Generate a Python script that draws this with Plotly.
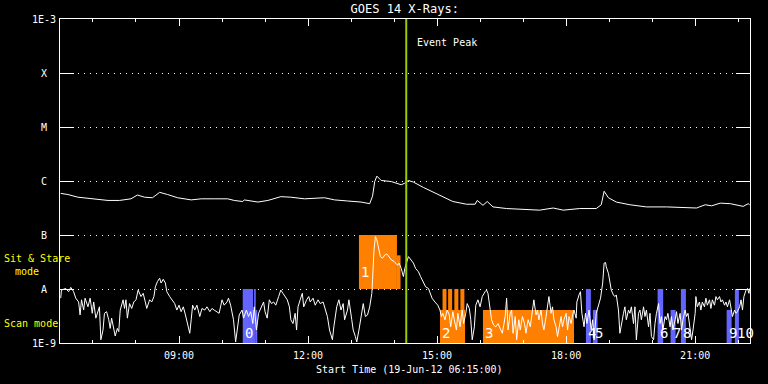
import math
import pandas as pd
import plotly.graph_objects as go

# ---------------- data ----------------
START = "2012-06-19 06:15:00"
DAY = "2012-06-19 "

# GOES long channel (1-8 A): minutes after start, log10 flux (W/m^2)
long_minutes = [0, 10, 24, 42, 52, 66, 82, 98, 107, 117,
                128, 138, 149, 163, 182, 196, 214, 233, 242, 254,
                256, 275, 289, 307, 321, 340, 368, 382, 400, 419,
                431, 435, 438, 441, 447, 461, 475, 480, 485, 492,
                506, 519, 533, 547, 566, 578, 581, 589, 595, 603,
                622, 645, 668, 687, 701, 724, 747, 754, 758, 764,
                775, 794, 817, 845, 868, 887, 899, 908, 920, 934,
                952, 959, 961]
long_log_flux = [-6.23, -6.25, -6.30, -6.33, -6.35, -6.36, -6.36, -6.33, -6.26, -6.30,
                 -6.31, -6.21, -6.25, -6.31, -6.35, -6.33, -6.33, -6.33, -6.36, -6.38,
                 -6.35, -6.39, -6.36, -6.29, -6.30, -6.33, -6.31, -6.35, -6.37, -6.39,
                 -6.42, -6.28, -6.01, -5.91, -5.99, -6.01, -6.07, -6.04, -5.99, -6.02,
                 -6.12, -6.20, -6.28, -6.38, -6.43, -6.43, -6.36, -6.45, -6.38, -6.48,
                 -6.51, -6.52, -6.54, -6.50, -6.54, -6.51, -6.51, -6.44, -6.19, -6.31,
                 -6.39, -6.44, -6.48, -6.48, -6.49, -6.50, -6.44, -6.46, -6.41, -6.42,
                 -6.47, -6.42, -6.44]

# GOES short channel (0.5-4 A): minutes after start, log10 flux (W/m^2)
short_minutes = [
    0, 1, 7, 11, 14, 18, 21, 25, 27, 29, 32, 34, 38, 41, 44, 46, 49, 52, 54, 56,
    59, 61, 64, 67, 69, 71, 74, 76, 79, 81, 83, 87, 89, 91, 93, 96, 99, 102, 105, 108,
    112, 115, 118, 120, 124, 127, 130, 132, 135, 138, 140, 143, 146, 148, 152, 155, 159, 162, 165, 168,
    171, 174, 177, 180, 182, 184, 187, 190, 194, 197, 201, 204, 208, 211, 214, 218, 221, 225, 228, 232,
    234, 237, 239, 241, 244, 246, 249, 253, 255, 259, 262, 265, 268, 270, 273, 276, 280, 283, 285, 288,
    291, 294, 297, 300, 304, 307, 310, 313, 316, 319, 321,
    324, 327, 329, 331, 334, 337, 339, 343, 346, 348, 352, 355, 359, 362, 366, 369, 372, 375, 379, 381,
    385, 388, 391, 394, 396, 400, 402, 406, 408, 411, 413, 416, 420, 422, 425, 428, 431, 434, 435, 437,
    439, 441, 444, 446, 449, 452, 455, 458, 461, 465, 467, 470, 472, 475, 478, 480, 485, 488, 492, 495,
    499, 502, 506, 509, 513, 515, 518, 522, 526, 529, 531, 533, 536, 539, 542, 544, 547, 549, 552, 554,
    557, 560, 562, 565, 567, 570, 572, 574, 577, 579, 582, 585, 588, 592, 594, 596, 599, 601, 604, 607,
    610, 614, 616, 620, 622, 624, 627, 629, 631, 634, 636, 639, 641, 644,
    647, 649, 652, 655, 658, 660, 663, 665, 667, 670, 672, 674, 677, 679, 681, 684, 686, 688, 691, 693,
    695, 698, 700, 702, 705, 707, 709, 712, 714, 716, 719, 720, 723, 725, 727, 730, 732, 734, 737, 740,
    742, 744, 747, 749, 751, 753, 756, 758, 760, 761, 764, 766, 768, 771, 773, 775, 778, 780, 782, 785,
    787, 789, 792, 794, 796, 799, 801, 803, 806, 808, 810, 813, 815, 817, 820, 822, 824, 827, 829, 831,
    834, 836, 838, 840, 843, 845, 847, 850, 852, 854, 857, 859, 861, 864, 866, 868, 871, 873, 875, 878,
    880, 882, 885, 886, 888, 891, 893, 895, 898, 900, 902, 905, 907, 909, 912, 914, 916, 919, 921, 923,
    926, 928, 930, 933, 935, 937, 940, 942, 944, 947, 949, 951, 953, 956, 958, 960, 961]
short_log_flux = [
    -8.17, -8.02, -7.99, -8.05, -7.97, -8.05, -8.17, -8.24, -8.48, -8.20,
    -8.39, -8.17, -8.33, -8.17, -8.45, -8.24, -8.54, -8.39, -8.33, -8.94,
    -8.76, -8.45, -8.42, -8.57, -8.73, -8.54, -8.76, -8.87, -8.73, -8.79,
    -8.39, -8.20, -8.36, -8.20, -8.54, -8.27, -8.36, -8.24, -8.20, -8.02,
    -8.14, -8.08, -8.24, -8.36, -8.20, -8.24, -8.14, -7.96, -7.86, -7.80,
    -7.89, -7.82, -7.89, -8.05, -8.14, -8.20, -8.27, -8.39, -8.30, -8.42,
    -8.33, -8.48, -8.64, -8.82, -8.57, -8.30, -8.39, -8.30, -8.51, -8.36,
    -8.39, -8.33, -8.42, -8.36, -8.39, -8.42, -8.45, -8.20, -8.30, -8.24,
    -8.17, -8.30, -8.48, -8.57, -8.98, -8.76, -8.48, -8.39, -8.54, -8.39,
    -8.51, -8.42, -8.64, -8.33, -8.76, -8.45, -8.33, -8.24, -8.42, -8.54,
    -8.20, -8.27, -8.24, -8.30, -8.14, -8.02, -8.08, -8.14, -8.20, -8.33,
    -8.57,
    -8.64, -8.45, -8.76, -8.33, -8.20, -8.08, -8.33, -8.20, -8.14, -8.24,
    -8.17, -8.30, -8.20, -8.27, -8.24, -8.39, -8.51, -8.76, -8.94, -8.70,
    -8.33, -8.20, -8.39, -8.27, -8.57, -8.39, -8.20, -8.57, -8.76, -8.88,
    -8.98, -8.76, -8.45, -8.27, -8.51, -8.48, -8.33, -8.08, -7.83, -7.28,
    -7.03, -7.09, -7.28, -7.40, -7.43, -7.37, -7.35, -7.41, -7.46, -7.49,
    -7.52, -7.56, -7.52, -7.62, -7.77, -7.62, -7.40, -7.46, -7.52, -7.62,
    -7.68, -7.77, -7.89, -7.96, -7.99, -8.08, -8.17, -8.24, -8.30, -8.39,
    -8.51, -8.45, -8.57, -8.39, -8.48, -8.70, -8.42, -8.57, -8.76, -8.45,
    -8.70, -8.39, -8.64, -8.45, -8.27, -8.36, -8.57, -8.94, -8.70, -8.30,
    -8.20, -8.33, -8.14, -8.05, -8.02, -8.08, -8.45, -8.57, -8.67, -8.70,
    -8.64, -8.76, -8.82, -8.51, -8.17, -8.76, -8.45, -8.39, -8.82, -8.51,
    -8.94, -8.57, -8.76, -8.51,
    -8.64, -8.82, -8.57, -8.70, -8.45, -8.20, -8.48, -8.39, -8.57, -8.39,
    -8.64, -8.76, -8.51, -8.33, -8.14, -8.45, -8.33, -8.57, -8.70, -8.88,
    -8.70, -8.51, -8.70, -8.57, -8.45, -8.76, -8.51, -8.64, -8.48, -8.39,
    -8.54, -8.24, -8.11, -8.05, -8.45, -8.70, -8.45, -8.64, -8.39, -8.76,
    -8.57, -8.94, -8.45, -8.36, -8.27, -8.17, -7.89, -7.52, -7.51, -7.59,
    -7.71, -7.89, -8.02, -8.11, -8.14, -8.11, -8.39, -8.82, -8.64, -8.45,
    -8.33, -8.57, -8.39, -8.45, -8.33, -8.64, -8.33, -8.94, -8.45, -8.39,
    -8.57, -8.33, -8.51, -8.39, -8.70, -8.45, -8.88, -8.94, -8.64, -8.45,
    -8.27, -8.64, -8.51, -8.76, -8.51, -8.57, -8.45, -8.70, -8.51, -8.76,
    -8.57, -8.42, -8.64, -8.45, -8.76, -8.57, -8.39, -8.51, -8.45, -8.70,
    -8.94, -8.76, -8.45, -8.14, -8.33, -8.24, -8.39, -8.24, -8.33, -8.17,
    -8.30, -8.20, -8.36, -8.20, -8.30, -8.14, -8.20, -8.14, -8.24, -8.20,
    -8.30, -8.24, -8.33, -8.20, -8.33, -8.51, -8.39, -8.45, -8.42, -8.33,
    -8.20, -8.39, -8.14, -8.02, -7.99, -8.08, -7.99]

# observation windows (orange = sit & stare / scan blocks, blue = other blocks)
orange_start = ["13:11:00", "14:04:00", "15:04:00", "15:07:36", "15:15:24", "15:24:06", "15:32:30", "16:04:00"]
orange_end = ["14:04:00", "14:09:00", "15:39:00", "15:13:06", "15:21:00", "15:29:42", "15:38:06", "18:11:00"]
orange_low = [1e-8, 1e-8, 1e-9, 1e-9, 1e-9, 1e-9, 1e-9, 1e-9]
orange_high = [1e-7, 4.2e-8, 4.1e-9, 1e-8, 1e-8, 1e-8, 1e-8, 4.1e-9]

blue_start = ["10:28:54", "10:43:18", "10:44:42", "10:47:06", "18:27:36", "18:37:18",
              "20:07:36", "20:25:42", "20:40:06", "21:43:54", "21:55:24"]
blue_end = ["10:43:18", "10:44:42", "10:47:06", "10:49:12", "18:34:30", "18:43:54",
            "20:15:24", "20:32:42", "20:47:06", "21:50:54", "22:01:00"]
blue_low = [1e-9] * 11
blue_high = [1e-8, 4.1e-9, 1e-8, 4.1e-9, 1e-8, 4.1e-9, 1e-8, 4.1e-9, 1e-8, 4.1e-9, 1e-8]

obs_labels = ["0", "1", "2", "3", "4", "5", "6", "7", "8", "9", "10"]
obs_label_time = ["10:28:54", "13:11:00", "15:04:00", "16:04:00", "18:27:36", "18:37:18",
                  "20:07:36", "20:25:42", "20:40:06", "21:43:54", "21:55:24"]
obs_label_flux = [1.5e-9, 2.1e-8, 1.5e-9, 1.5e-9, 1.5e-9, 1.5e-9, 1.5e-9, 1.5e-9, 1.5e-9, 1.5e-9, 1.5e-9]

event_peak_time = "14:17:00"

y_tick_values = [1e-9, 1e-8, 1e-7, 1e-6, 1e-5, 1e-4, 1e-3]
y_tick_labels = ["1E-9", "A", "B", "C", "M", "X", "1E-3"]

# ---------------- figure ----------------
start = pd.Timestamp(START)
t_long = start + pd.to_timedelta(long_minutes, unit="min")
t_short = start + pd.to_timedelta(short_minutes, unit="min")

FONT = "DejaVu Sans Mono"
ORANGE = "#ff8000"
BLUE = "#6464ff"

fig = go.Figure()
fig.add_trace(go.Scatter(x=t_long, y=[10 ** v for v in long_log_flux], mode="lines",
                         line=dict(color="white", width=1), hoverinfo="skip", showlegend=False))
fig.add_trace(go.Scatter(x=t_short, y=[10 ** v for v in short_log_flux], mode="lines",
                         line=dict(color="white", width=1), hoverinfo="skip", showlegend=False))

for s, e, lo, hi in zip(orange_start, orange_end, orange_low, orange_high):
    fig.add_shape(type="rect", xref="x", yref="y", x0=DAY + s, x1=DAY + e, y0=lo, y1=hi,
                  fillcolor=ORANGE, line_width=0, layer="between")
for s, e, lo, hi in zip(blue_start, blue_end, blue_low, blue_high):
    fig.add_shape(type="rect", xref="x", yref="y", x0=DAY + s, x1=DAY + e, y0=lo, y1=hi,
                  fillcolor=BLUE, line_width=0, layer="between")

fig.add_shape(type="line", xref="x", yref="paper", x0=DAY + event_peak_time, x1=DAY + event_peak_time,
              y0=0, y1=1, line=dict(color="#99cc00", width=2), layer="above")

annotations = []
for lab, t, f in zip(obs_labels, obs_label_time, obs_label_flux):
    annotations.append(dict(x=DAY + t, y=math.log10(f), xref="x", yref="y", text=lab,
                            showarrow=False, xanchor="left", yanchor="middle", xshift=0,
                            font=dict(family=FONT, size=14, color="white")))
annotations.append(dict(x=DAY + event_peak_time, y=-3.435, xref="x", yref="y", text="Event Peak",
                        showarrow=False, xanchor="left", yanchor="middle", xshift=9,
                        font=dict(family=FONT, size=10, color="white")))
for v, lab in zip(y_tick_values, y_tick_labels):
    annotations.append(dict(x=-0.0232, y=math.log10(v), xref="paper", yref="y", text=lab,
                            showarrow=False, xanchor="center", yanchor="middle",
                            font=dict(family=FONT, size=10, color="white")))
annotations += [
    dict(x=-0.0841, y=0.2608, xref="paper", yref="paper", text="Sit & Stare", showarrow=False,
         xanchor="left", yanchor="middle", font=dict(family=FONT, size=10, color="#ffff00")),
    dict(x=-0.0686, y=0.2222, xref="paper", yref="paper", text="mode", showarrow=False,
         xanchor="left", yanchor="middle", font=dict(family=FONT, size=10, color="#ffff00")),
    dict(x=-0.0841, y=0.0602, xref="paper", yref="paper", text="Scan mode", showarrow=False,
         xanchor="left", yanchor="middle", font=dict(family=FONT, size=10, color="#ffff00")),
    dict(x=0.506, y=-0.0833, xref="paper", yref="paper", text="Start Time (19-Jun-12 06:15:00)",
         showarrow=False, xanchor="center", yanchor="middle",
         font=dict(family=FONT, size=10, color="white")),
]

fig.update_layout(
    width=768, height=384,
    margin=dict(l=60, r=18, t=19, b=41),
    paper_bgcolor="black", plot_bgcolor="black",
    font=dict(family=FONT, color="white"),
    title=dict(text="GOES 14 X-Rays:", x=0.527, xanchor="center", y=1 - 9 / 384, yanchor="middle",
               font=dict(family=FONT, size=12, color="white")),
    showlegend=False,
    annotations=annotations,
)
fig.update_xaxes(
    type="date",
    range=[start - pd.Timedelta(minutes=1), start + pd.Timedelta(minutes=961.5)],
    showline=True, linecolor="white", linewidth=1, mirror="ticks",
    ticks="inside", ticklen=7, tickcolor="white", tickwidth=1,
    tick0="2012-06-19 00:00:00", dtick=3 * 3600 * 1000, tickformat="%H:%M",
    tickfont=dict(family=FONT, size=10, color="white"),
    ticklabelstandoff=3,
    showgrid=False, zeroline=False,
    minor=dict(tick0="2012-06-19 00:00:00", dtick=3600 * 1000, ticks="inside", ticklen=3,
               tickcolor="white", showgrid=False),
)
fig.update_yaxes(
    type="log", range=[-9, -3],
    tickvals=y_tick_values, showticklabels=False,
    showline=True, linecolor="white", linewidth=1, mirror="ticks",
    ticks="inside", ticklen=14, tickcolor="white", tickwidth=1,
    showgrid=True, gridcolor="white", gridwidth=1, griddash="1px,5px",
    zeroline=False,
)

fig.write_html("out.html", config={"displayModeBar": False},
               post_script="document.body.style.margin='0px';document.body.style.background='black';")
